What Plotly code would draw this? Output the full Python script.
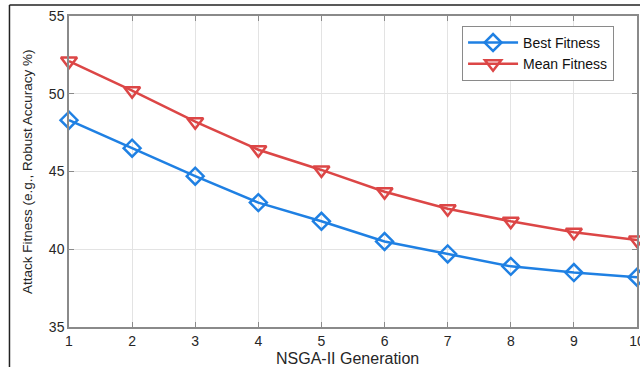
import plotly.graph_objects as go

generations = [1, 2, 3, 4, 5, 6, 7, 8, 9, 10]
best_fitness = [48.3, 46.5, 44.7, 43.0, 41.8, 40.5, 39.7, 38.9, 38.5, 38.2]
mean_fitness = [52.1, 50.2, 48.2, 46.4, 45.1, 43.7, 42.6, 41.8, 41.1, 40.6]
y_ticks = [35, 40, 45, 50, 55]

BLUE = "#1f80e3"
RED = "#dc4646"
FONT = "Liberation Sans, Arial, sans-serif"

fig = go.Figure()
fig.add_trace(go.Scatter(
    x=generations, y=best_fitness, name="Best Fitness",
    mode="lines+markers",
    line=dict(color=BLUE, width=2.5),
    marker=dict(symbol="diamond-open", size=13, color=BLUE, line=dict(width=2.5)),
    cliponaxis=False,
))
fig.add_trace(go.Scatter(
    x=generations, y=mean_fitness, name="Mean Fitness",
    mode="lines+markers",
    line=dict(color=RED, width=2.5),
    marker=dict(symbol="triangle-down-open", size=14, color=RED, line=dict(width=2.5)),
    cliponaxis=False,
))

axis_common = dict(
    showgrid=True, gridcolor="#e3e3e3", gridwidth=1,
    showline=True, linecolor="#8a8a8a", linewidth=1.5,
    mirror="ticks", ticks="inside", ticklen=5, tickcolor="#8a8a8a",
    tickfont=dict(family=FONT, size=14, color="#262626"),
    ticklabeloverflow="allow",
    automargin=False,
    zeroline=False,
)

fig.update_xaxes(range=[1, 10], tickvals=generations, **axis_common)
fig.update_yaxes(range=[35, 55], tickvals=y_ticks, **axis_common)

fig.update_layout(
    width=640, height=367,
    margin=dict(l=69, r=3, t=16, b=40, autoexpand=False),
    paper_bgcolor="white", plot_bgcolor="white",
    showlegend=True,
    legend=dict(
        x=0.692, y=0.968, xanchor="left", yanchor="top",
        bgcolor="white", bordercolor="#8a8a8a", borderwidth=1,
        font=dict(family=FONT, size=14, color="#111111"),
        tracegroupgap=0, itemwidth=50,
    ),
    annotations=[
        dict(text="Attack Fitness (e.g., Robust Accuracy %)", textangle=-90,
             xref="paper", yref="paper", x=-0.073, y=0.5,
             xanchor="center", yanchor="middle", showarrow=False,
             font=dict(family=FONT, size=13.5, color="#262626")),
        dict(text="NSGA-II Generation",
             xref="paper", yref="paper", x=0.49, y=-0.1,
             xanchor="center", yanchor="middle", showarrow=False,
             font=dict(family=FONT, size=16, color="#262626")),
    ],
    shapes=[
        dict(type="line", xref="paper", yref="paper",
             x0=-0.1048, x1=-0.1048, y0=-0.2, y1=1.0354,
             line=dict(color="#222222", width=1.5)),
        dict(type="line", xref="paper", yref="paper",
             x0=-0.1048, x1=1.1, y0=1.0354, y1=1.0354,
             line=dict(color="#222222", width=1.5)),
    ],
)

fig.write_html("out.html")
